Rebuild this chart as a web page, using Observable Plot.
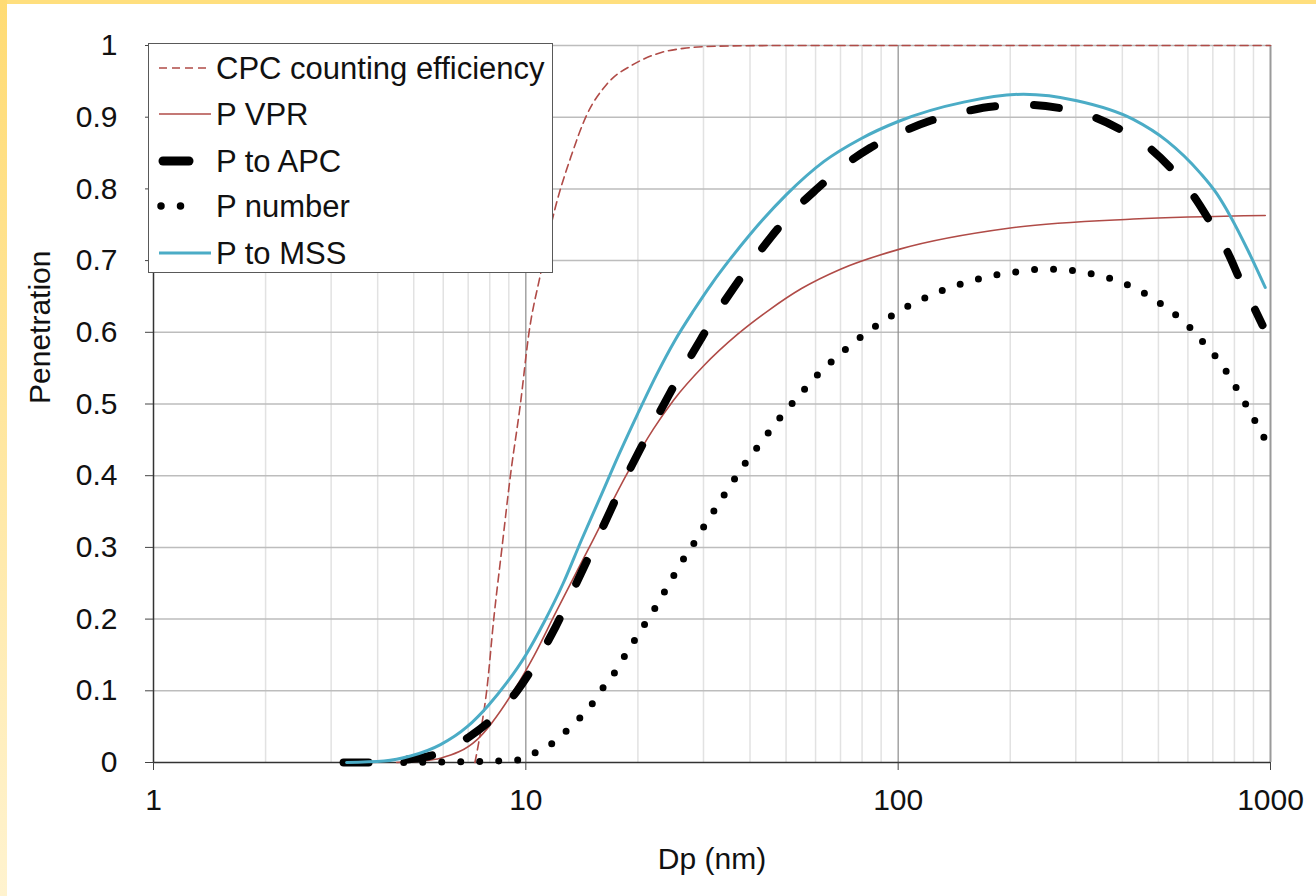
<!DOCTYPE html>
<html><head><meta charset="utf-8">
<script src="https://cdn.jsdelivr.net/npm/d3@7"></script>
<script src="https://cdn.jsdelivr.net/npm/@observablehq/plot@0.6"></script>
<style>
html,body{margin:0;padding:0;background:#fff;}
#wrap{position:relative;width:1316px;height:896px;overflow:hidden;font-family:"Liberation Sans",Arial,sans-serif;background:#fff;}
#chart{position:absolute;left:0;top:0;}
#bt{position:absolute;left:0;top:0;width:1316px;height:4px;background:#FFDF7E;}
#bl{position:absolute;left:0;top:0;width:7px;height:896px;background:linear-gradient(#FFDB73,#FFF3CF);}
#legend{position:absolute;left:148px;top:43px;width:405px;height:230px;background:#fff;border:1.5px solid #595959;box-sizing:border-box;}
#legend svg{position:absolute;left:0;top:0;}
</style>
</head><body>
<div id="wrap"><div id="chart"></div><div id="legend"></div><div id="bt"></div><div id="bl"></div></div>
<script>
// ---- data (Dp in nm, penetration 0..1) ----
const cpcDp = [7.3, 7.6, 7.85, 8.2, 8.63, 9.09, 9.67, 10.2, 10.94, 12.0, 13.2, 14.6, 16.5, 19.5, 23.0, 26.5, 32.6, 50, 100, 1000];
const cpcP  = [0, 0.05, 0.1, 0.2, 0.3, 0.4, 0.5, 0.6, 0.68, 0.774, 0.844, 0.904, 0.946, 0.974, 0.99, 0.996, 0.999, 1, 1, 1];

const vprDp = [4.5, 5.2, 5.9, 7.4, 9.28, 10.5, 12.0, 14.8, 18.8, 22.0, 24.9, 30, 37, 45, 55, 70, 101, 200, 428, 968];
const vprP  = [0, 0.002, 0.006, 0.032, 0.1, 0.148, 0.208, 0.3, 0.405, 0.465, 0.505, 0.553, 0.597, 0.631, 0.661, 0.688, 0.716, 0.7455, 0.758, 0.763];

const apcDp = [3.24, 3.95, 4.61, 5.9, 7.1, 8.28, 9.48, 10.6, 11.77, 12.9, 14.1, 15.5, 16.9, 18.1, 20.1, 22.0, 24.2, 26.5, 29.4, 32.3, 36.5, 40.5, 45.4, 53, 60.5, 71.4, 84, 101, 122, 148.5, 180, 224, 270, 328, 395, 471, 544, 622, 692, 770, 830, 900, 952];
const apcP  = [0, 0, 0.003, 0.014, 0.037, 0.065, 0.1, 0.138, 0.18, 0.222, 0.265, 0.31, 0.352, 0.386, 0.433, 0.472, 0.512, 0.549, 0.589, 0.624, 0.665, 0.698, 0.732, 0.772, 0.8, 0.832, 0.857, 0.878, 0.895, 0.907, 0.915, 0.917, 0.913, 0.902, 0.883, 0.858, 0.827, 0.79, 0.752, 0.71, 0.672, 0.636, 0.61];

const numDp = [4.7, 9.38, 10.4, 11.5, 12.6, 13.7, 14.9, 15.9, 17.05, 18.1, 19.3, 20.5, 21.8, 23.1, 24.5, 26.0, 27.7, 29.4, 31.3, 33.3, 35.4, 37.7, 40.5, 43.4, 46.5, 50.0, 54.1, 58.3, 63.4, 69.0, 75.2, 82.5, 90.8, 100.3, 110.5, 123, 137.5, 153.8, 171.4, 192, 215, 242, 271, 305, 342, 383, 426, 471, 519, 570, 619, 668, 721, 769, 818, 866, 916, 968];
const numP  = [0, 0.003, 0.012, 0.023, 0.04, 0.058, 0.078, 0.1, 0.12, 0.142, 0.165, 0.187, 0.208, 0.23, 0.253, 0.277, 0.298, 0.321, 0.343, 0.365, 0.386, 0.408, 0.43, 0.45, 0.471, 0.491, 0.511, 0.531, 0.55, 0.567, 0.584, 0.60, 0.615, 0.629, 0.641, 0.652, 0.6625, 0.67, 0.677, 0.682, 0.685, 0.688, 0.688, 0.685, 0.68, 0.673, 0.663, 0.651, 0.636, 0.62, 0.6025, 0.5825, 0.5626, 0.5417, 0.5184, 0.496, 0.473, 0.45];

const mssDp = [3.3, 4.16, 4.9, 5.9, 6.96, 7.94, 8.91, 10, 11.2, 12.6, 14.1, 15.85, 17.8, 20, 22.4, 25.1, 28.2, 31.6, 35.5, 39.8, 50.1, 63.1, 79.4, 100, 150, 217, 302, 428, 527, 648, 718, 780, 872, 968];
const mssP  = [0, 0.002, 0.009, 0.025, 0.05, 0.08, 0.112, 0.15, 0.196, 0.25, 0.31, 0.37, 0.43, 0.487, 0.54, 0.588, 0.63, 0.668, 0.703, 0.735, 0.792, 0.838, 0.87, 0.894, 0.921, 0.932, 0.923, 0.897, 0.867, 0.822, 0.793, 0.762, 0.713, 0.6625];

const seriesNames = ["CPC counting efficiency", "P VPR", "P to APC", "P number", "P to MSS"];
const xTicks = [1, 10, 100, 1000];
const yTicks = [0, 0.1, 0.2, 0.3, 0.4, 0.5, 0.6, 0.7, 0.8, 0.9, 1];
const xLabel = "Dp (nm)";
const yLabel = "Penetration";

// ---- build tables ----
const rows = (xs, ys) => xs.map((d, i) => ({Dp: d, P: ys[i]}));
const cpc = rows(cpcDp, cpcP), vpr = rows(vprDp, vprP), apc = rows(apcDp, apcP), num = rows(numDp, numP), mss = rows(mssDp, mssP);
const xMinor = [1, 10, 100].flatMap(d => [2, 3, 4, 5, 6, 7, 8, 9].map(k => k * d));

const BROWN = "#b04b47", CYAN = "#4bacc6";
const FONT = "'Liberation Sans', Arial, Helvetica, sans-serif";

const chart = Plot.plot({
  width: 1316, height: 896,
  marginLeft: 153, marginRight: 46, marginTop: 45, marginBottom: 134,
  x: {type: "log", domain: [1, 1000]},
  y: {domain: [0, 1]},
  style: {fontFamily: FONT, fontSize: "30px", color: "#111", background: "transparent", overflow: "visible"},
  marks: [
    Plot.ruleX(xMinor, {stroke: "#e2e2e2", strokeWidth: 1.5}),
    Plot.ruleY(yTicks.filter(d => d > 0), {stroke: "#bdbdbd", strokeWidth: 1.5}),
    Plot.ruleX([10, 100], {stroke: "#8c8c8c", strokeWidth: 1.2}),
    Plot.ruleX([1000], {stroke: "#9a9a9a", strokeWidth: 2}),
    Plot.ruleX([1], {stroke: "#333", strokeWidth: 1.5}),
    Plot.ruleY([0], {stroke: "#333", strokeWidth: 1.5}),
    Plot.axisX({ticks: xTicks, tickSize: 8, tickPadding: 18, tickFormat: d => String(d), label: null, stroke: "#444"}),
    Plot.axisY({ticks: yTicks, tickSize: 8, tickPadding: 28, tickFormat: d => (d === 0 || d === 1) ? String(d) : d.toFixed(1), label: null, stroke: "#444"}),
    Plot.text([xLabel], {text: d => d, frameAnchor: "bottom", dy: 85, lineAnchor: "top", fontSize: 30}),
    Plot.text([yLabel], {text: d => d, frameAnchor: "left", rotate: -90, dx: -104, lineAnchor: "bottom", fontSize: 30}),
    Plot.line(cpc, {x: "Dp", y: "P", stroke: BROWN, strokeWidth: 1.6, strokeDasharray: "8,5", curve: "monotone-x"}),
    Plot.line(vpr, {x: "Dp", y: "P", stroke: BROWN, strokeWidth: 1.6, curve: "monotone-x"}),
    Plot.line(apc, {x: "Dp", y: "P", stroke: "#000", strokeWidth: 8, strokeDasharray: "25,39", strokeLinecap: "round", curve: "monotone-x"}),
    Plot.line(num, {x: "Dp", y: "P", stroke: "#000", strokeWidth: 7, strokeDasharray: "0,19", strokeLinecap: "round", curve: "monotone-x"}),
    Plot.line(mss, {x: "Dp", y: "P", stroke: CYAN, strokeWidth: 3, curve: "monotone-x"})
  ]
});
document.getElementById("chart").appendChild(chart);

// ---- legend ----
const leg = d3.select("#legend").append("svg").attr("width", 405).attr("height", 230);
const rowY = [24, 70, 117, 162, 209];
const samples = [
  g => g.append("line").attr("x1", 10).attr("x2", 62).attr("stroke", BROWN).attr("stroke-width", 1.6).attr("stroke-dasharray", "8,5"),
  g => g.append("line").attr("x1", 10).attr("x2", 62).attr("stroke", BROWN).attr("stroke-width", 1.6),
  g => g.append("line").attr("x1", 14).attr("x2", 40).attr("stroke", "#000").attr("stroke-width", 9).attr("stroke-linecap", "round"),
  g => g.append("line").attr("x1", 12).attr("x2", 51).attr("stroke", "#000").attr("stroke-width", 7.5).attr("stroke-linecap", "round").attr("stroke-dasharray", "0,19.5"),
  g => g.append("line").attr("x1", 10).attr("x2", 62).attr("stroke", CYAN).attr("stroke-width", 3)
];
seriesNames.forEach((name, i) => {
  const g = leg.append("g").attr("transform", `translate(0,${rowY[i]})`);
  samples[i](g);
  g.append("text").attr("x", 67).attr("dy", "0.35em").attr("font-family", FONT).attr("font-size", 31).attr("fill", "#111").text(name);
});
</script>
</body></html>
